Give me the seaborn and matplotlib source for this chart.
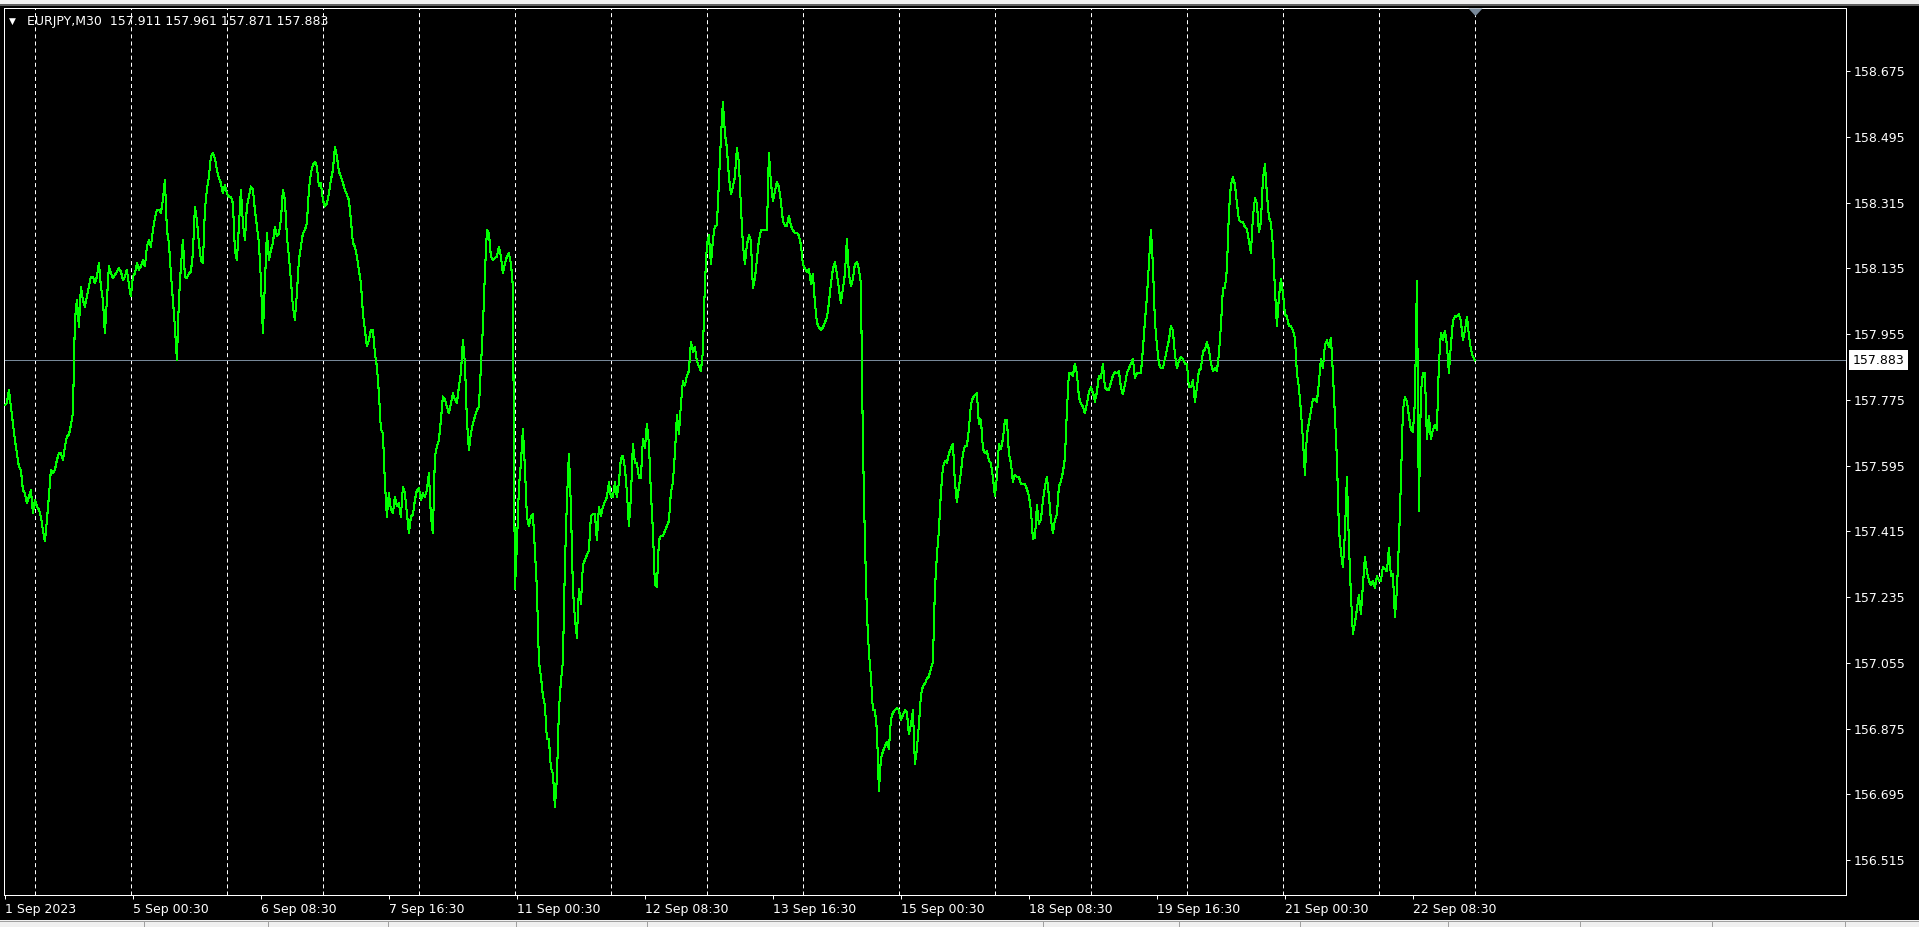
import numpy as np
import pandas as pd
import matplotlib
matplotlib.use("Agg")
import matplotlib.pyplot as plt
import seaborn as sns
from matplotlib.patches import Rectangle
from matplotlib.lines import Line2D

plt.rcParams["font.family"] = ["DejaVu Sans"]
plt.rcParams["lines.scale_dashes"] = False

symbol = "EURJPY,M30"
last_ohlc = [157.911, 157.961, 157.871, 157.883]

# M30 closes, one per bar, 1 Sep 16:30 -> 25 Sep 00:00
close_part1 = [
    157.761, 157.766, 157.802, 157.756, 157.711, 157.665, 157.629, 157.592, 157.583, 157.528,
    157.519, 157.492, 157.510, 157.528, 157.464, 157.501, 157.483, 157.474, 157.455, 157.419,
    157.387, 157.446, 157.510, 157.583, 157.574, 157.583, 157.610, 157.629, 157.629, 157.610,
    157.647, 157.674, 157.679, 157.706, 157.738, 157.994, 158.048, 157.975, 158.085, 158.048,
    158.030, 158.058, 158.085, 158.112, 158.112, 158.094, 158.112, 158.149, 158.085, 158.048,
    157.957, 158.048, 158.140, 158.121, 158.108, 158.117, 158.126, 158.135, 158.126, 158.103,
    158.112, 158.131, 158.090, 158.058, 158.112, 158.121, 158.149, 158.131, 158.140, 158.158,
    158.140, 158.194, 158.213, 158.194, 158.240, 158.272, 158.295, 158.295, 158.286, 158.322,
    158.377, 158.240, 158.204, 158.121, 158.048, 157.975, 157.884, 158.048, 158.140, 158.213,
    158.112, 158.108, 158.121, 158.126, 158.176, 158.304, 158.267, 158.204, 158.158, 158.149,
    158.295, 158.350, 158.386, 158.441, 158.450, 158.436, 158.404, 158.382, 158.368, 158.340,
    158.363, 158.340, 158.331, 158.331, 158.313, 158.185, 158.158, 158.249, 158.350, 158.258,
    158.213, 158.304, 158.331, 158.359, 158.350, 158.295, 158.249, 158.204, 158.103, 157.957,
    158.094, 158.231, 158.158, 158.185, 158.204, 158.249, 158.222, 158.231, 158.267, 158.350,
    158.322, 158.222, 158.167, 158.103, 158.030, 157.994, 158.067, 158.158, 158.194, 158.231,
    158.240, 158.258, 158.350, 158.395, 158.418, 158.427, 158.413, 158.359, 158.368, 158.322,
    158.304, 158.313, 158.340, 158.377, 158.404, 158.468, 158.441, 158.400, 158.386, 158.368,
    158.350, 158.336, 158.322, 158.267, 158.204, 158.194, 158.167, 158.131, 158.094, 158.012,
    157.966, 157.921, 157.939, 157.966, 157.966, 157.902, 157.866, 157.793, 157.693, 157.683,
    157.547, 157.455, 157.519, 157.474, 157.464, 157.510, 157.483, 157.492, 157.455, 157.537,
    157.519, 157.464, 157.410, 157.455, 157.460, 157.501, 157.528, 157.533, 157.501, 157.519,
    157.510, 157.528, 157.574, 157.455, 157.410, 157.620, 157.647, 157.665, 157.720, 157.784,
    157.775, 157.756, 157.738, 157.766, 157.793, 157.775, 157.766, 157.811, 157.848, 157.939,
    157.875, 157.720, 157.638, 157.683, 157.711, 157.729, 157.747, 157.756, 157.866, 157.975,
    158.121, 158.240, 158.231, 158.167, 158.158, 158.163, 158.167, 158.194, 158.167, 158.121,
    158.149, 158.167, 158.176, 158.149, 158.085,
]
close_part2 = [
    157.257, 157.376, 157.535, 157.602, 157.695, 157.589, 157.456, 157.429, 157.456, 157.463,
    157.363, 157.257, 157.058, 157.018, 156.965, 156.938, 156.846, 156.846, 156.766, 156.753,
    156.660, 156.739, 156.925, 157.005, 157.058, 157.323, 157.496, 157.628, 157.482, 157.257,
    157.177, 157.124, 157.257, 157.217, 157.323, 157.336, 157.350, 157.363, 157.456, 157.463,
    157.463, 157.390, 157.482, 157.456, 157.482, 157.496, 157.509, 157.549, 157.509, 157.509,
    157.549, 157.509, 157.549, 157.615, 157.622, 157.589, 157.522, 157.429, 157.509, 157.655,
    157.602, 157.602, 157.562, 157.562, 157.668, 157.642, 157.708, 157.655, 157.522, 157.416,
    157.270, 157.263, 157.390, 157.403, 157.403, 157.416, 157.429, 157.443, 157.522, 157.549,
    157.628, 157.734, 157.681, 157.761, 157.827, 157.814, 157.841, 157.854, 157.934, 157.907,
    157.920, 157.880, 157.867, 157.854, 157.907, 158.093, 158.199, 158.225, 158.146, 158.212,
    158.252, 158.252, 158.371, 158.491, 158.590, 158.504, 158.464, 158.385, 158.338, 158.358,
    158.385, 158.464, 158.424, 158.305, 158.199, 158.146, 158.199, 158.225, 158.212, 158.080,
    158.106, 158.159, 158.212, 158.239, 158.239, 158.239, 158.239, 158.450, 158.371, 158.318,
    158.345, 158.371, 158.358, 158.318, 158.265, 158.252, 158.252, 158.278, 158.252, 158.239,
    158.232, 158.232, 158.225, 158.199, 158.146, 158.133, 158.126, 158.133, 158.093, 158.119,
    158.040, 157.987, 157.973, 157.967, 157.973, 157.987, 158.000, 158.040, 158.093, 158.133,
    158.152, 158.119, 158.079, 158.040, 158.079, 158.119, 158.215, 158.119, 158.086, 158.106,
    158.146, 158.152, 158.133, 158.093, 157.655, 157.390, 157.190, 157.084, 157.018, 156.925,
    156.925, 156.872, 156.705, 156.792, 156.812, 156.826, 156.839, 156.819, 156.899, 156.919,
    156.925, 156.932, 156.925, 156.899, 156.912, 156.925, 156.919, 156.859, 156.885, 156.925,
    156.779, 156.819, 156.885, 156.965, 156.991, 156.998, 157.011, 157.018, 157.038, 157.058,
    157.257, 157.350, 157.416, 157.522, 157.589, 157.608, 157.602, 157.628, 157.642, 157.655,
    157.549, 157.496, 157.535, 157.575, 157.628, 157.648, 157.648, 157.695, 157.761, 157.781,
    157.788, 157.794, 157.708, 157.721, 157.642, 157.628, 157.635, 157.608, 157.602, 157.562,
]
close_part3 = [
    157.512, 157.564, 157.654, 157.641, 157.667, 157.719, 157.719, 157.628, 157.602, 157.551,
    157.570, 157.564, 157.564, 157.544, 157.544, 157.544, 157.531, 157.512, 157.473, 157.395,
    157.396, 157.486, 157.435, 157.447, 157.499, 157.538, 157.564, 157.512, 157.447, 157.409,
    157.447, 157.460, 157.538, 157.551, 157.577, 157.615, 157.745, 157.848, 157.848, 157.841,
    157.874, 157.848, 157.783, 157.764, 157.757, 157.738, 157.764, 157.796, 157.809, 157.796,
    157.770, 157.796, 157.841, 157.835, 157.874, 157.809, 157.803, 157.803, 157.822, 157.841,
    157.850, 157.848, 157.854, 157.809, 157.790, 157.816, 157.848, 157.861, 157.874, 157.887,
    157.835, 157.848, 157.848, 157.848, 157.913, 157.990, 158.055, 158.145, 158.240, 158.145,
    157.990, 157.925, 157.874, 157.861, 157.861, 157.887, 157.913, 157.938, 157.977, 157.964,
    157.900, 157.861, 157.880, 157.893, 157.887, 157.874, 157.874, 157.809, 157.809, 157.829,
    157.770, 157.809, 157.854, 157.861, 157.906, 157.913, 157.932, 157.913, 157.874, 157.854,
    157.861, 157.854, 157.900, 157.977, 158.080, 158.080, 158.132, 158.287, 158.365, 158.384,
    158.365, 158.313, 158.268, 158.261, 158.261, 158.248, 158.242, 158.210, 158.177, 158.274,
    158.326, 158.313, 158.235, 158.261, 158.378, 158.420, 158.339, 158.274, 158.261, 158.197,
    158.080, 157.977, 158.055, 158.106, 158.068, 158.009, 158.003, 157.977, 157.977, 157.964,
    157.945, 157.848, 157.809, 157.745, 157.667, 157.570, 157.680, 157.712, 157.745, 157.777,
    157.777, 157.770, 157.822, 157.887, 157.861, 157.925, 157.938, 157.919, 157.945, 157.848,
    157.732, 157.615, 157.422, 157.357, 157.318, 157.409, 157.564, 157.383, 157.241, 157.135,
    157.163, 157.202, 157.241, 157.189, 157.267, 157.344, 157.305, 157.280, 157.267, 157.280,
    157.260, 157.292, 157.280, 157.280, 157.318, 157.312, 157.305, 157.370, 157.292, 157.299,
    157.180, 157.254, 157.383, 157.551, 157.745, 157.783, 157.770, 157.732, 157.693, 157.686,
    157.770, 158.100, 157.470, 157.796, 157.848, 157.848, 157.667, 157.732, 157.667, 157.693,
    157.706, 157.693, 157.874, 157.958, 157.938, 157.964, 157.925, 157.848, 157.925, 157.990,
    158.003, 158.003, 158.009, 157.990, 157.938, 157.964, 158.003, 157.951, 157.913, 157.893,
    157.883,
]

price_ticks = np.round(156.515 + 0.18 * np.arange(13), 3)

# bar times (weekdays only), used for day separators and the time labels
times = pd.date_range("2023-09-01 16:30", "2023-09-25 00:00", freq="30min")
times = times[times.dayofweek < 5]

close = np.array(close_part1 + close_part2 + close_part3)
df = pd.DataFrame({"bar": np.arange(len(close)), "close": close,
                   "time": times[:len(close)]})

day = df["time"].dt.normalize()
day_breaks = df.loc[(day != day.shift()) & (df["bar"] > 0), "bar"].tolist()

label_rows = df.iloc[::64]
x_labels = [f"{t.day} {t:%b %Y}" if k == 0 else f"{t.day} {t:%b %H:%M}"
            for k, t in enumerate(label_rows["time"])]

W, H = 1919, 927
fig = plt.figure(figsize=(W / 100, H / 100), dpi=100, facecolor="black")
left, right, top, bottom = 3.5, 1846.3, 8, 894.5
ax = fig.add_axes([left / W, 1 - bottom / H, (right - left) / W, (bottom - top) / H])
ax.set_facecolor("black")

# bar i sits at pixel 4.9 + 2*i, prices at 365.3 px per yen
ax.set_xlim((left - 4.9) / 2, (right - 4.9) / 2)
ax.set_ylim(158.675 - (bottom - 71) / 365.3, 158.675 + (71 - top) / 365.3)

for b in day_breaks:
    ax.axvline(b, color="white", lw=0.72, linestyle=(0, (2.9, 2.2)), zorder=1)

ax.axhline(last_ohlc[3], color="#778899", lw=0.72, zorder=2)

sns.lineplot(data=df, x="bar", y="close", ax=ax, color="#00ff00",
             linewidth=0.75, antialiased=False, zorder=3, legend=False)

for s in ax.spines.values():
    s.set_color("white")
    s.set_linewidth(0.72)

ax.yaxis.tick_right()
ax.set_yticks(price_ticks)
ax.set_yticklabels([f"{v:.3f}" for v in price_ticks])
ax.set_xticks(label_rows["bar"])
ax.set_xticklabels(x_labels, ha="left")
ax.tick_params(axis="both", colors="white", labelsize=9, width=0.72,
               length=2.6, direction="out")
ax.tick_params(axis="y", pad=2.6)
ax.tick_params(axis="x", pad=3.5)
ax.set_xlabel("")
ax.set_ylabel("")

# current price tag on the scale
ax.text(1 + 6.5 / (right - left), last_ohlc[3], f"{last_ohlc[3]:.3f}",
        transform=ax.get_yaxis_transform(), ha="left", va="center",
        fontsize=9, color="black", zorder=6, clip_on=False,
        bbox=dict(boxstyle="square,pad=0.28", fc="white", ec="none"))

# chart shift marker at the last bar
ax.plot([df["bar"].iloc[-1]], [ax.get_ylim()[1]], marker=[(-7.5, 0), (7.5, 0), (0, -8)],
        ms=10.8, color="#778899", mec="none", clip_on=False, zorder=7)

# header
fig.text(12.5 / W, 1 - 21 / H, "\u25bc", color="white", fontsize=6.5,
         ha="center", va="center")
fig.text(27 / W, 1 - 21 / H,
         f"{symbol}  " + " ".join(f"{v:.3f}" for v in last_ohlc),
         color="white", fontsize=9, ha="left", va="center")

# window chrome: thin light strips top and bottom
fig.add_artist(Rectangle((0, 1 - 4 / H), 1, 4 / H, transform=fig.transFigure,
                         fc="#f0f0f0", ec="none"))
fig.add_artist(Rectangle((0, 1 - 6 / H), 1, 2 / H, transform=fig.transFigure,
                         fc="#606060", ec="none"))
fig.add_artist(Rectangle((0, 0), 1, 7 / H, transform=fig.transFigure,
                         fc="#f0f0f0", ec="none"))
fig.add_artist(Line2D([0, 1], [6 / H, 6 / H], transform=fig.transFigure,
                      color="#a0a0a0", lw=0.72))
tab_edges = [144, 268, 388, 516, 647, 1043, 1179, 1300, 1448, 1580, 1712, 1845]
for xe in tab_edges:
    fig.add_artist(Line2D([xe / W, xe / W], [0, 6 / H], transform=fig.transFigure,
                          color="#a0a0a0", lw=0.72))

plt.savefig("out.png", dpi=100, facecolor="black")
